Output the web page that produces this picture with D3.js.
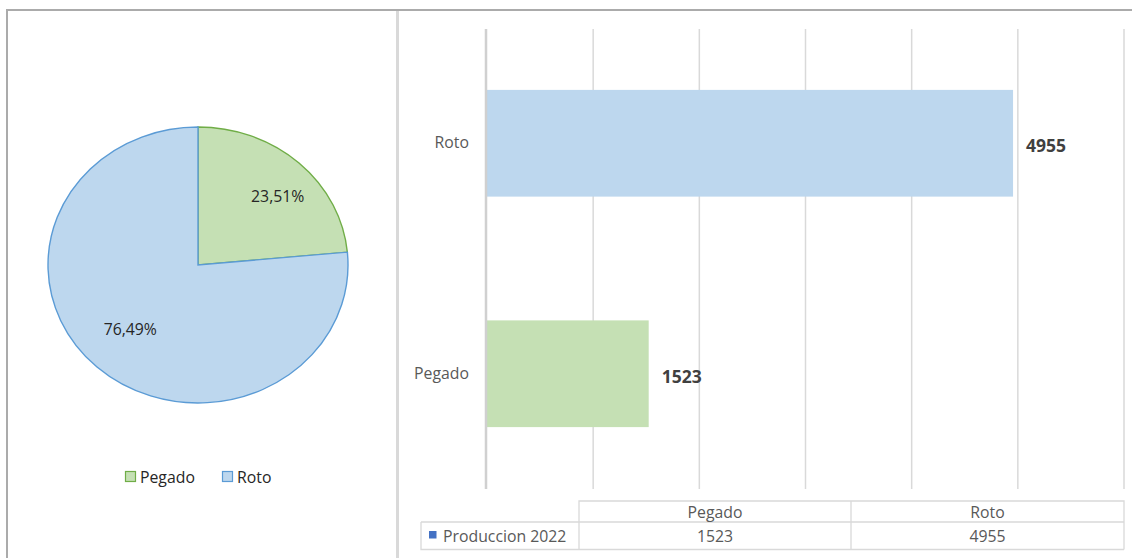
<!DOCTYPE html>
<html>
<head>
<meta charset="utf-8">
<script src="https://cdn.jsdelivr.net/npm/d3@7"></script>
<style>
  html, body { margin: 0; padding: 0; background: #fff; }
  svg { display: block; font-family: "Open Sans", Lato, sans-serif; }
</style>
</head>
<body>
<svg id="chart" width="1132" height="558"></svg>
<script>
// Production 2022 by defect type
const categories = ["Pegado", "Roto"];
const values = [1523, 4955];
const seriesName = "Produccion 2022";
const pctLabels = ["23,51%", "76,49%"];
const xTicks = [0, 1000, 2000, 3000, 4000, 5000, 6000];

const fills = { Pegado: "#c5e0b4", Roto: "#bdd7ee" };
const strokes = { Pegado: "#70ad47", Roto: "#5b9bd5" };
const FONT = 15.8;

const svg = d3.select("#chart");

// ---- frame ----
svg.append("line").attr("x1", 6).attr("x2", 1132).attr("y1", 10).attr("y2", 10)
  .attr("stroke", "#ababab").attr("stroke-width", 2);
svg.append("line").attr("x1", 7).attr("x2", 7).attr("y1", 9).attr("y2", 558)
  .attr("stroke", "#ababab").attr("stroke-width", 2);
svg.append("line").attr("x1", 397.5).attr("x2", 397.5).attr("y1", 11).attr("y2", 558)
  .attr("stroke", "#d9d9d9").attr("stroke-width", 3);

// ---- pie ----
const pieData = d3.pie().sort(null).value(d => d.value)(
  categories.map((c, i) => ({ cat: c, value: values[i], label: pctLabels[i] })));
const rx = 150, ry = 138;
const pieG = svg.append("g").attr("transform", `translate(198,265)`);
const slices = pieG.append("g").attr("transform", `scale(1,${ry / rx})`);
const arc = d3.arc().innerRadius(0).outerRadius(rx);
slices.selectAll("path").data(pieData).join("path")
  .attr("d", arc)
  .attr("fill", d => fills[d.data.cat])
  .attr("stroke", d => strokes[d.data.cat])
  .attr("stroke-width", 1.4);
const labelArc = d3.arc().innerRadius(108).outerRadius(108);
pieG.selectAll("text").data(pieData).join("text")
  .attr("x", d => labelArc.centroid(d)[0] + (d.data.cat === "Pegado" ? 7 : 5))
  .attr("y", d => labelArc.centroid(d)[1] * ry / rx + (d.data.cat === "Pegado" ? 4 : -9))
  .attr("text-anchor", "middle").attr("dominant-baseline", "central")
  .attr("font-size", FONT).attr("fill", "#262626")
  .text(d => d.data.label);

// pie legend
const legendX = [125, 222];
const leg = svg.append("g").selectAll("g").data(categories).join("g")
  .attr("transform", (d, i) => `translate(${legendX[i]},471)`);
leg.append("rect").attr("x", 0.5).attr("y", 0.5).attr("width", 10).attr("height", 10)
  .attr("fill", d => fills[d]).attr("stroke", d => strokes[d]).attr("stroke-width", 1.2);
leg.append("text").attr("x", 15).attr("y", 6).attr("dominant-baseline", "central")
  .attr("font-size", FONT).attr("fill", "#262626").text(d => d);

// ---- bar chart ----
const x = d3.scaleLinear().domain([0, 6000]).range([487, 1124]);
const barOrder = ["Roto", "Pegado"];
const y = d3.scaleBand().domain(barOrder).range([28, 489])
  .paddingInner(0.537).paddingOuter(0.537 / 2);

// gridlines
svg.append("g").selectAll("line").data(xTicks.slice(1)).join("line")
  .attr("x1", d => x(d)).attr("x2", d => x(d)).attr("y1", 29).attr("y2", 489)
  .attr("stroke", "#d9d9d9").attr("stroke-width", 1.5);

// bars
const barData = barOrder.map(c => ({ cat: c, value: values[categories.indexOf(c)] }));
svg.append("g").selectAll("rect").data(barData).join("rect")
  .attr("x", x(0)).attr("y", d => y(d.cat))
  .attr("width", d => x(d.value) - x(0)).attr("height", y.bandwidth())
  .attr("fill", d => fills[d.cat]);

// category axis
const yAxis = svg.append("g").attr("transform", `translate(${x(0) - 1},0)`)
  .call(d3.axisLeft(y).tickSize(0).tickPadding(17));
yAxis.select(".domain").attr("stroke", "#d0d0d0").attr("stroke-width", 2.5)
  .attr("d", "M0,29V489");
yAxis.selectAll("text").attr("font-size", FONT).attr("fill", "#595959")
  .attr("font-family", "'Open Sans', Lato, sans-serif");

// value labels
svg.append("g").selectAll("text").data(barData).join("text")
  .attr("x", d => x(d.value) + 13)
  .attr("y", d => y(d.cat) + y.bandwidth() / 2 + 2)
  .attr("dominant-baseline", "central")
  .attr("font-size", 17.5).attr("font-weight", "bold").attr("fill", "#404040")
  .text(d => d.value);

// ---- data table ----
const colEdges = [579, 851, 1124];
const rowTop = 501, rowMid = 522, rowBot = 549.5, tableLeft = 421;
const tbl = svg.append("g").attr("stroke", "#d9d9d9").attr("stroke-width", 1.3).attr("fill", "none");
tbl.append("path").attr("d",
  `M${colEdges[0]},${rowBot}V${rowTop}H${colEdges[2]}V${rowBot}` +
  `M${tableLeft},${rowMid}H${colEdges[2]}` +
  `M${tableLeft},${rowMid}V${rowBot}H${colEdges[2]}` +
  `M${colEdges[1]},${rowTop}V${rowBot}`);

svg.append("g").selectAll("text").data(categories).join("text")
  .attr("x", (d, i) => (colEdges[i] + colEdges[i + 1]) / 2)
  .attr("y", (rowTop + rowMid) / 2)
  .attr("text-anchor", "middle").attr("dominant-baseline", "central")
  .attr("font-size", FONT).attr("fill", "#595959").text(d => d);
svg.append("g").selectAll("text").data(values).join("text")
  .attr("x", (d, i) => (colEdges[i] + colEdges[i + 1]) / 2)
  .attr("y", (rowMid + rowBot) / 2)
  .attr("text-anchor", "middle").attr("dominant-baseline", "central")
  .attr("font-size", FONT).attr("fill", "#595959").text(d => d);
svg.append("rect").attr("x", 429).attr("y", 531).attr("width", 7.5).attr("height", 7.5)
  .attr("fill", "#4472c4");
svg.append("text").attr("x", 443).attr("y", (rowMid + rowBot) / 2)
  .attr("dominant-baseline", "central")
  .attr("font-size", FONT).attr("fill", "#595959").text(seriesName);
</script>
</body>
</html>
